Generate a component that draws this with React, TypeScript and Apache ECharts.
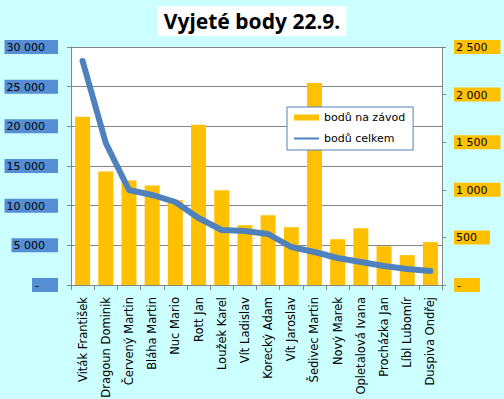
import React, { useEffect, useRef } from "react";
import * as echarts from "echarts";

const categories = [
  "Viták František",
  "Dragoun Dominik",
  "Červený Martin",
  "Bláha Martin",
  "Nuc Mario",
  "Rott Jan",
  "Loužek Karel",
  "Vít Ladislav",
  "Korecký Adam",
  "Vít Jaroslav",
  "Šedivec Martin",
  "Nový Marek",
  "Opletalová Ivana",
  "Procházka Jan",
  "Líbl Lubomír",
  "Duspiva Ondřej",
];

const bodyNaZavod = [1768, 1192, 1098, 1046, 889, 1684, 994, 628, 732, 607, 2123, 481, 596, 408, 314, 450];
const bodyCelkem = [28236, 17900, 11975, 11345, 10462, 8446, 6933, 6807, 6429, 4790, 4160, 3403, 2900, 2395, 2017, 1765];

const leftTicks = { min: 0, max: 30000, interval: 5000 };
const rightTicks = { min: 0, max: 2500, interval: 500 };

const fmt = (v: number) => String(v).replace(/\B(?=(\d{3})+(?!\d))/g, " ");

const FONT = "DejaVu Sans";

export default function App() {
  const ref = useRef<HTMLDivElement>(null);
  useEffect(() => {
    document.body.style.margin = "0";
    const chart = echarts.init(ref.current!, null, { renderer: "svg" });
    chart.setOption({
      animation: false,
      backgroundColor: "#ccffff",
      title: {
        text: "Vyjeté body 22.9.",
        left: "center",
        top: 6,
        backgroundColor: "#ffffff",
        padding: [4, 6, 5, 6],
        textStyle: { fontFamily: "Noto Sans", fontWeight: "bold", fontSize: 21, color: "#000" },
      },
      legend: {
        orient: "vertical",
        left: 287,
        top: 107,
        backgroundColor: "#ffffff",
        borderColor: "#4f81bd",
        borderWidth: 1,
        padding: [5, 8, 6, 7],
        itemGap: 10,
        itemWidth: 25,
        itemHeight: 6,
        textStyle: { fontFamily: FONT, fontSize: 11, color: "#000" },
        data: [
          { name: "bodů na závod", icon: "rect" },
          { name: "bodů celkem", icon: "path://M0,0 L25,0 L25,2 L0,2 Z", itemStyle: { color: "#4f81bd" } },
        ],
      },
      grid: {
        left: 71,
        right: 62,
        top: 47,
        bottom: 114,
        show: true,
        backgroundColor: "#ffffff",
        borderWidth: 0,
        containLabel: false,
        outerBoundsMode: "none",
      },
      xAxis: {
        type: "category",
        data: categories,
        axisLine: { lineStyle: { color: "#868686" } },
        axisTick: { show: true, length: 5, lineStyle: { color: "#868686" } },
        axisLabel: {
          interval: 0,
          rotate: 90,
          margin: 12,
          fontFamily: FONT,
          fontSize: 11.5,
          color: "#000",
        },
      },
      yAxis: [
        {
          type: "value",
          position: "left",
          ...leftTicks,
          axisLine: { show: true, lineStyle: { color: "#868686" } },
          axisTick: { show: true, length: 4, lineStyle: { color: "#868686" } },
          splitLine: { show: true, lineStyle: { color: "#868686", width: 1 } },
          axisLabel: {
            margin: 13,
            formatter: (v: number) => (v === 0 ? "{z|-}" : "{a|" + fmt(v) + "}"),
            rich: {
              a: { backgroundColor: "#558ed5", padding: [2, 13, 1, 2], fontFamily: FONT, fontSize: 11, color: "#000" },
              z: { backgroundColor: "#558ed5", padding: [2, 19, 1, 3], fontFamily: FONT, fontSize: 11, color: "#000" },
            },
          },
        },
        {
          type: "value",
          position: "right",
          ...rightTicks,
          axisLine: { show: true, lineStyle: { color: "#868686" } },
          axisTick: { show: true, length: 4, lineStyle: { color: "#868686" } },
          splitLine: { show: false },
          axisLabel: {
            margin: 12,
            formatter: (v: number) => (v === 0 ? "{z|-}" : "{a|" + fmt(v) + "}"),
            rich: {
              a: { backgroundColor: "#ffc000", padding: [2, 13, 1, 2], fontFamily: FONT, fontSize: 11, color: "#000" },
              z: { backgroundColor: "#ffc000", padding: [2, 19, 1, 3], fontFamily: FONT, fontSize: 11, color: "#000" },
            },
          },
        },
      ],
      series: [
        {
          name: "bodů na závod",
          type: "bar",
          yAxisIndex: 1,
          data: bodyNaZavod,
          barWidth: 15,
          itemStyle: { color: "#ffc000" },
          z: 2,
        },
        {
          name: "bodů celkem",
          type: "line",
          yAxisIndex: 0,
          data: bodyCelkem,
          showSymbol: false,
          symbol: "none",
          lineStyle: { color: "#4f81bd", width: 6, cap: "round", join: "round" },
          itemStyle: { color: "#4f81bd" },
          z: 3,
        },
      ],
    });
    return () => chart.dispose();
  }, []);
  return <div ref={ref} style={{ width: 504, height: 399 }} />;
}
